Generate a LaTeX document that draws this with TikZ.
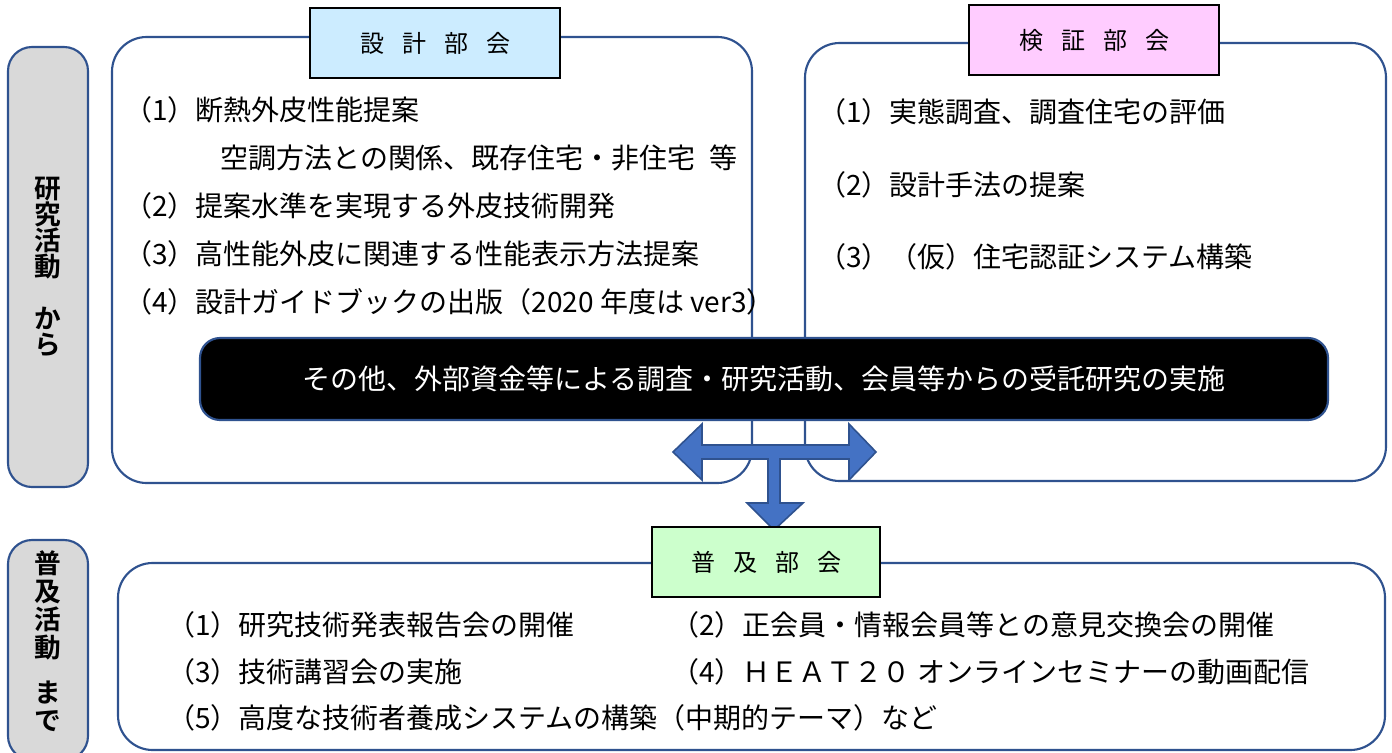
\documentclass[tikz,border=0pt]{standalone}
\usepackage{fontspec}
\setmainfont{Noto Sans CJK JP}[BoldFont={Noto Sans CJK JP Bold}]
\definecolor{dblue}{RGB}{47,82,143}
\definecolor{mblue}{RGB}{68,114,196}
\definecolor{lblue}{RGB}{204,236,255}
\definecolor{lpink}{RGB}{255,204,255}
\definecolor{lgreen}{RGB}{204,255,204}
\definecolor{lgray}{RGB}{217,217,217}
\newcommand\gsp{\hspace{13.5pt}}

\begin{document}
\begin{tikzpicture}[x=0.75pt, y=-0.75pt,
	grp/.style={draw=dblue, line width=1.6pt, fill=white, rounded corners=26pt},
	side/.style={draw=dblue, line width=1.6pt, fill=lgray, rounded corners=18pt},
	ttl/.style={draw=black, line width=1.3pt, fill=#1, minimum width=187.5pt,
		minimum height=52pt, inner sep=0pt, font=\fontsize{18}{18}\selectfont},
	lab/.style={align=center, inner sep=0pt, font=\bfseries\fontsize{20}{#1}\selectfont},
	txt/.style={anchor=west, inner sep=0pt, font=\fontsize{21}{21}\selectfont},
	blk/.style={draw=dblue, line width=1.2pt, fill=mblue, line join=miter}]
	\useasboundingbox (0,0) rectangle (1392,753);
	% draw side labels
	\draw[side] (8,47) rectangle (88,487);
	\draw[side] (8,540) rectangle (88,760);
	\node[lab=19.5pt] (kenkyu) at (48,267) {研\\究\\活\\動\\[20pt]か\\ら};
	\node[lab=21pt] (fukyu) at (48,641) {普\\及\\活\\動\\[13pt]ま\\で};
	% draw working group frames
	\draw[grp] (112,37) rectangle (752,483);
	\draw[grp] (805,43) rectangle (1386,481);
	\node[ttl=lblue] (sekkei) at (435,43) {設\gsp 計\gsp 部\gsp 会};
	\node[ttl=lpink] (kensho) at (1094,40) {検\gsp 証\gsp 部\gsp 会};
	% items of design group
	\node[txt] (s1) at (124,110) {（1）断熱外皮性能提案};
	\node[txt] (s1b) at (220,158) {空調方法との関係、既存住宅・非住宅\hspace{0.5em}等};
	\foreach \t [count=\i from 2] in {{（2）提案水準を実現する外皮技術開発},
		{（3）高性能外皮に関連する性能表示方法提案},
		{（4）設計ガイドブックの出版（2020 年度は ver3）}} {
		\node[txt] (s\i) at (124,206+48*\i-96) {\t};
	}
	% items of verification group
	\foreach \t [count=\i from 1] in {{（1）実態調査、調査住宅の評価},
		{（2）設計手法の提案}, {（3）（仮）住宅認証システム構築}} {
		\node[txt] (k\i) at (818,112+72.5*\i-72.5) {\t};
	}
	% black banner across both groups
	\node[draw=dblue, line width=1.6pt, fill=black, text=white, rounded corners=15pt,
		minimum width=846pt, minimum height=61.5pt, font=\fontsize{21}{21}\selectfont]
		(sonota) at (764,379) {その他、外部資金等による調査・研究活動、会員等からの受託研究の実施};
	% block arrow from research to dissemination
	\coordinate (hub) at (774,452);
	\draw[blk, shift={(hub)}] (-101,0) -- (-72,-28) -- (-72,-7) -- (75,-7) -- (75,-28)
		-- (102,0) -- (75,28) -- (75,7) -- (6,7) -- (6,51) -- (29,51) -- (0,78)
		-- (-27,51) -- (-6,51) -- (-6,7) -- (-72,7) -- (-72,28) -- cycle;
	% dissemination group
	\draw[grp] (118,563) rectangle (1385,750);
	\node[ttl=lgreen, minimum width=171pt] (fukyubu) at (766,562) {普\gsp 及\gsp 部\gsp 会};
	\foreach \t [count=\i from 1] in {{（1）研究技術発表報告会の開催},
		{（3）技術講習会の実施}, {（5）高度な技術者養成システムの構築（中期的テーマ）など}} {
		\node[txt] (f\i) at (167,625+46.5*\i-46.5) {\t};
	}
	\foreach \t [count=\i from 1] in {{（2）正会員・情報会員等との意見交換会の開催},
		{（4）ＨＥＡＴ２０ オンラインセミナーの動画配信}} {
		\node[txt] (g\i) at (671,625+47*\i-47) {\t};
	}
\end{tikzpicture}
\end{document}
